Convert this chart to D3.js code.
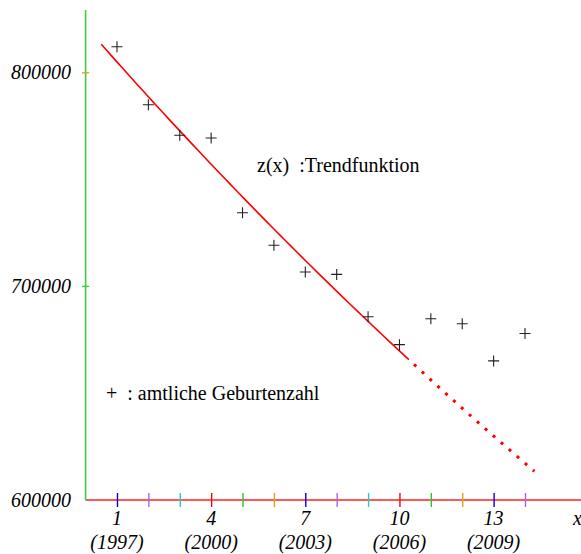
<!DOCTYPE html>
<html>
<head>
<meta charset="utf-8">
<script src="https://cdn.jsdelivr.net/npm/d3@7"></script>
<style>
  body { margin: 0; background: #fff; }
  text { font-family: "Liberation Serif", "Times New Roman", serif; }
</style>
</head>
<body>
<div id="chart"></div>
<script>
const width = 581;
const height = 554;

// Lebendgeborene in Deutschland, Jahr 1 = 1997
const years = [1, 2, 3, 4, 5, 6, 7, 8, 9, 10, 11, 12, 13, 14];
const births = [812173, 785034, 770744, 769500, 734475, 719250, 706721,
                705622, 685795, 672724, 684862, 682514, 665126, 677947];
const xTickLabels = [1, 4, 7, 10, 13];
const yearLabels = ["(1997)", "(2000)", "(2003)", "(2006)", "(2009)"];
const yTicks = [600000, 700000, 800000];

// Trendfunktion z(x) = a * e^(k x)
const trendA = 821700;
const trendK = -0.02044;
const trendSolid = [0.5, 10.3];
const trendDotted = [10.3, 14.3];

const tickColors = ["#0000ee", "#b060e0", "#20c8d0", "#ff0000", "#30c030", "#e0a020"];

const x = d3.scaleLinear().domain([0, 14]).range([85.6, 525]);
const y = d3.scaleLinear().domain([600000, 800000]).range([500, 72.8]);

const svg = d3.select("#chart").append("svg")
    .attr("width", width)
    .attr("height", height);

// x-Achse
svg.append("line")
    .attr("x1", x(0)).attr("x2", width)
    .attr("y1", y(600000)).attr("y2", y(600000))
    .attr("stroke", "#ff2020")
    .attr("stroke-width", 1.6);

const xAxis = svg.append("g")
    .attr("transform", `translate(0,${y(600000)})`)
    .call(d3.axisBottom(x).tickValues(years).tickSize(7).tickFormat(""));
xAxis.select(".domain").remove();
xAxis.selectAll(".tick line")
    .attr("y1", -7)
    .attr("stroke-width", 1.4)
    .attr("stroke", (d, i) => tickColors[i % tickColors.length]);

svg.selectAll(".xlab")
    .data(xTickLabels)
    .enter().append("text")
    .attr("class", "xlab")
    .attr("x", d => x(d))
    .attr("y", 525)
    .attr("text-anchor", "middle")
    .style("font-style", "italic")
    .style("font-size", "20px")
    .text(d => d);

svg.selectAll(".ylab2")
    .data(yearLabels)
    .enter().append("text")
    .attr("class", "ylab2")
    .attr("x", (d, i) => x(xTickLabels[i]))
    .attr("y", 549)
    .attr("text-anchor", "middle")
    .style("font-style", "italic")
    .style("font-size", "20px")
    .text(d => d);

svg.append("text")
    .attr("x", 573)
    .attr("y", 525)
    .style("font-style", "italic")
    .style("font-size", "20px")
    .text("x");

// y-Achse
svg.append("line")
    .attr("x1", x(0)).attr("x2", x(0))
    .attr("y1", 10).attr("y2", y(600000))
    .attr("stroke", "#40cc40")
    .attr("stroke-width", 1.6);

svg.selectAll(".ytick")
    .data(yTicks.slice(1))
    .enter().append("line")
    .attr("class", "ytick")
    .attr("x1", x(0) - 3.5).attr("x2", x(0) + 3.5)
    .attr("y1", d => y(d)).attr("y2", d => y(d))
    .attr("stroke", (d, i) => i === 0 ? "#40cc40" : "#e0a020")
    .attr("stroke-width", 1.4);

svg.selectAll(".ylab")
    .data(yTicks)
    .enter().append("text")
    .attr("class", "ylab")
    .attr("x", 71)
    .attr("y", d => y(d) + 6.5)
    .attr("text-anchor", "end")
    .style("font-style", "italic")
    .style("font-size", "20px")
    .text(d => d);

// Trendfunktion
const z = t => trendA * Math.exp(trendK * t);
const line = d3.line().x(d => x(d)).y(d => y(z(d)));
const sample = ([a, b]) => d3.range(0, 61).map(i => a + (b - a) * i / 60);

svg.append("path")
    .attr("d", line(sample(trendSolid)))
    .attr("fill", "none")
    .attr("stroke", "#ff0000")
    .attr("stroke-width", 1.6);

svg.append("path")
    .attr("d", line(sample(trendDotted)))
    .attr("fill", "none")
    .attr("stroke", "#ff0000")
    .attr("stroke-width", 3)
    .attr("stroke-dasharray", "3 7.6")
    .attr("stroke-dashoffset", -7);

// amtliche Geburtenzahlen
svg.selectAll(".points")
    .data(years)
    .enter().append("path")
    .attr("class", "points")
    .attr("transform", (d, i) => `translate(${x(d)},${y(births[i])})`)
    .attr("d", "M-5.5,0H5.5M0,-5.5V5.5")
    .attr("stroke", "#222")
    .attr("stroke-width", 1.1)
    .attr("fill", "none");

// Beschriftung
svg.append("text")
    .attr("x", 257)
    .attr("y", 172)
    .style("font-size", "20px")
    .attr("xml:space", "preserve")
    .text("z(x)  :Trendfunktion");

svg.append("text")
    .attr("x", 106)
    .attr("y", 400)
    .style("font-size", "20px")
    .attr("xml:space", "preserve")
    .text("+  : amtliche Geburtenzahl");
</script>
</body>
</html>
